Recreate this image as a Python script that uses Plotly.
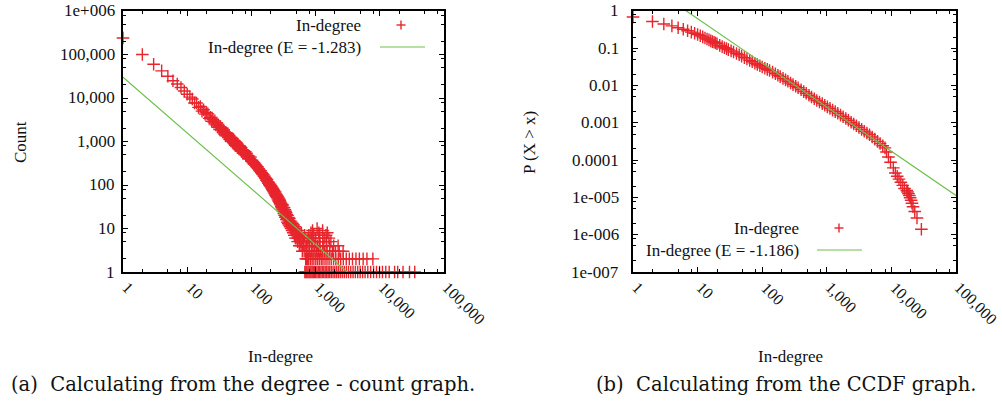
import math
import plotly.graph_objects as go

# ---------------------------------------------------------------- data
# (a) degree -> number of nodes with that in-degree
band_degree = [1, 2, 3, 4, 5, 6, 7, 8, 9, 10, 11, 12, 13, 14, 15, 16, 17, 18, 19, 20,
               21, 22, 23, 24, 25, 26, 27, 28, 29, 30, 31, 32, 33, 34, 35, 36, 37, 38,
               39, 40, 41, 42, 43, 44, 45, 46, 47, 48, 49, 50, 51, 52, 53, 54, 55, 56,
               57, 58, 59, 60, 61, 62, 63, 64, 65, 66, 67, 68, 69, 70, 72, 74, 76, 78,
               80, 82, 84, 86, 88, 90, 92, 95, 97, 100,
               102, 104, 106, 108, 110, 112, 114, 116, 118, 120, 122, 124, 126, 128,
               130, 133, 136, 139, 142, 145, 148, 151, 154, 157, 160, 163, 166, 169,
               172, 175, 178, 181, 184, 187, 190, 193, 196, 199, 202, 205, 208, 211,
               214, 217, 220, 223, 226, 229, 232, 235, 238, 241, 244, 247, 250, 253,
               256, 259, 262, 265, 268, 271, 274, 277, 280, 283, 286, 289, 292, 295,
               298, 301]
band_count = [240000, 100000, 59500, 42000, 31500, 25000, 20900, 17400, 14500, 12200,
              10500, 9520, 7700, 7680, 6090, 6370, 4990, 5380, 4270, 4630,
              4307, 3395, 3585, 2916, 3255, 2784, 2981, 2406, 2654, 2125, 2291, 1890,
              2146, 1862, 2020, 1654, 1841, 1490, 1623, 1350, 1549, 1355, 1485, 1225,
              1373, 1122, 1227, 1029, 1188, 1043, 1148, 949, 1074, 881, 967, 816,
              945, 834, 923, 769, 872, 717, 790, 670, 776, 688, 764, 637, 723, 598,
              647, 537, 614, 535, 584, 481, 538, 439, 479, 400, 461, 399, 438, 357,
              372, 350, 345, 322, 326, 305, 300, 285, 282, 270, 258, 262, 244, 238,
              235, 222, 208, 212, 194, 190, 181, 175, 171, 158, 160, 148, 144, 139,
              128, 135, 121, 118, 110, 114, 103, 98, 104, 92, 96, 86, 90, 80,
              84, 75, 79, 70, 74, 66, 63, 69, 58, 62, 55, 59, 52, 56,
              48, 53, 45, 50, 42, 47, 40, 44, 37, 41, 35, 38, 32, 36,
              30, 34]

cloud_degree = [305, 308, 311, 314, 317, 320, 323, 326, 329, 332, 335, 338, 341, 344,
                347, 350, 354, 358, 362, 366, 370, 374, 378, 382, 386, 390, 395, 400,
                405, 410, 415, 420, 425, 430, 436, 442, 448, 454, 460, 466, 472, 478,
                484, 490, 497, 504, 511, 518, 525, 533, 541, 549, 557, 565, 574, 583,
                592, 601, 611, 621, 631, 642, 653, 664, 676, 688, 700]
cloud_count = [28, 35, 25, 31, 27, 22, 30, 24, 20, 27, 22, 18, 25, 19,
               23, 16, 21, 17, 14, 20, 16, 13, 18, 15, 12, 17, 14, 11,
               15, 12, 10, 14, 11, 9, 13, 10, 8, 12, 9, 7, 11, 8,
               6, 10, 7, 9, 6, 8, 5, 7, 9, 6, 4, 7, 5, 6,
               4, 8, 5, 3, 6, 4, 5, 3, 7, 4, 2]

# high degrees, grouped by how many nodes share them
tail_c1 = [680, 705, 730, 760, 790, 820, 850, 885, 920, 960, 1000, 1050, 1100, 1150,
           1210, 1270, 1340, 1410, 1490, 1570, 1660, 1760, 1870, 1990, 2120, 2260,
           2420, 2600, 2800, 3020, 3260, 3530, 3830, 4160, 4530, 4940, 5400, 5900,
           6500, 7200, 8000, 8900, 9900, 11000, 12400, 14000, 17000, 19000, 23000,
           29000, 35000]
tail_c2 = [720, 750, 782, 833, 884, 941, 1007, 1072, 1143, 1224, 1303, 1402, 1504,
           1621, 1752, 1903, 2064, 2253, 2461, 2703, 3004, 3352, 3754, 4253, 4804,
           5503, 6303, 7800]
tail_c3 = [715, 762, 805, 861, 915, 975, 1041, 1112, 1191, 1282, 1383, 1511, 1662,
           1831, 2042, 2331, 2680]
tail_c4 = [725, 795, 875, 965, 1065, 1176, 1311, 1461, 1652, 1911, 2240]
tail_c5 = [740, 815, 905, 1005, 1135, 1291, 1491, 1731]
tail_c6 = [771, 871, 995, 1146, 1361, 1610]
tail_c7 = [786, 935, 1161, 1455]
tail_c8 = [845, 1125, 1520]
tail_c9 = [896, 1286]
tail_c10 = [1056]

fit_a_exponent = -1.283
fit_a_scale = 30200

# (b) complementary cumulative distribution P(X > x)
ccdf_degree = [1, 2, 3, 4, 5, 6, 7, 8, 9, 10, 11, 12, 13, 14, 15, 16, 17, 18, 19, 20,
               22, 24, 26, 28, 30, 33, 36, 40, 44, 48, 53, 58, 64, 70, 77, 84, 92,
               100, 110, 120, 130, 145, 160, 175, 190, 210, 230, 250, 275, 300, 330,
               360, 400, 440, 480, 530, 580, 640, 700, 770, 850, 930, 1020, 1120,
               1230, 1350, 1480, 1630, 1790, 1970, 2160, 2380, 2610, 2870, 3150, 3460,
               3800, 4180, 4590, 5040, 5540, 6090, 6690, 7350, 7950, 8400, 9000, 9700,
               10700, 11500, 12300, 13100, 14000, 15000, 16000, 17300, 17800, 18400,
               19000, 19500, 20200, 20800, 21600, 23000, 24900, 29100]
ccdf_prob = [0.692, 0.525, 0.447, 0.398, 0.355, 0.324, 0.295, 0.272, 0.254, 0.234,
             0.216, 0.202, 0.188, 0.178, 0.168, 0.158, 0.151, 0.145, 0.138, 0.132,
             0.120, 0.111, 0.1035, 0.0977, 0.0923, 0.0851, 0.0794, 0.0724, 0.0668,
             0.0617, 0.0562, 0.0519, 0.0473, 0.0437, 0.0398, 0.0367, 0.0339,
             0.0316, 0.0292, 0.0272, 0.0254, 0.0229, 0.0208, 0.0190, 0.0174, 0.0156,
             0.0142, 0.0130, 0.01175, 0.0106, 0.00957, 0.00873, 0.00771, 0.00689,
             0.00621, 0.00552, 0.00496, 0.00442, 0.00397, 0.00363, 0.00327, 0.00297,
             0.00269, 0.00244, 0.00220, 0.00200, 0.00181, 0.00161, 0.00146, 0.00131,
             0.00117, 0.00104, 0.000935, 0.000836, 0.000748, 0.000670, 0.000598,
             0.000535, 0.000479, 0.000419, 0.000366, 0.000319, 0.000279, 0.000244,
             0.000213, 0.000166, 0.000121, 0.000088, 0.000062, 0.000045, 0.000037,
             0.000031, 0.0000255, 0.000021, 0.0000173, 0.0000154, 0.000014,
             0.0000126, 0.0000112, 0.0000098, 0.0000084, 0.000007, 0.0000056,
             0.0000042, 0.0000028, 0.0000014]

fit_b_exponent = -1.186
fit_b_scale = 9.55

x_tick_vals = [1, 10, 100, 1000, 10000, 100000]
x_tick_text = ["1", "10", "100", "1,000", "10,000", "100,000"]
ya_tick_vals = [1, 10, 100, 1000, 10000, 100000, 1000000]
ya_tick_text = ["1", "10", "100", "1,000", "10,000", "100,000", "1e+006"]
yb_tick_vals = [1e-7, 1e-6, 1e-5, 1e-4, 1e-3, 1e-2, 1e-1, 1]
yb_tick_text = ["1e-007", "1e-006", "1e-005", "0.0001", "0.001", "0.01", "0.1", "1"]

# ---------------------------------------------------------------- style
W, H = 1002, 407
RED = "#e8242c"
GREEN = "#6cbf48"
INK = "#111111"
SERIF = "Liberation Serif"
TICK_FONT = dict(family=SERIF, size=17, color=INK)
XTICK_FONT = dict(family=SERIF, size=16, color=INK)


def px(x):
    return x / W


def py(y):
    return 1 - y / H


# plot frames (pixels)
A_L, A_R = 123, 444
B_L, B_R = 633, 956
TOP, BOT = 11, 272

# ---------------------------------------------------------------- traces
tails = [tail_c1, tail_c2, tail_c3, tail_c4, tail_c5, tail_c6, tail_c7, tail_c8,
         tail_c9, tail_c10]
a_x = band_degree + cloud_degree
a_y = band_count + cloud_count
for n, degs in enumerate(tails, start=1):
    a_x += degs
    a_y += [n] * len(degs)

marker = dict(symbol="cross-thin", size=9, color=RED, line=dict(width=1.4, color=RED))

fig = go.Figure()
fig.add_trace(go.Scatter(x=a_x, y=a_y, mode="markers", marker=marker,
                         cliponaxis=False, xaxis="x", yaxis="y", showlegend=False))
fit_x = [1, 100000]
fig.add_trace(go.Scatter(x=fit_x, y=[fit_a_scale * v ** fit_a_exponent for v in fit_x],
                         mode="lines", line=dict(color=GREEN, width=1.2),
                         xaxis="x", yaxis="y", showlegend=False))

fig.add_trace(go.Scatter(x=ccdf_degree, y=ccdf_prob, mode="markers", marker=marker,
                         cliponaxis=False, xaxis="x2", yaxis="y2", showlegend=False))
fig.add_trace(go.Scatter(x=fit_x, y=[fit_b_scale * v ** fit_b_exponent for v in fit_x],
                         mode="lines", line=dict(color=GREEN, width=1.2),
                         xaxis="x2", yaxis="y2", showlegend=False))


# ---------------------------------------------------------------- axes
def minor_vals(lo, hi):
    vals = []
    for e in range(lo, hi):
        for m in (2, 5, 8):
            vals.append(m * 10.0 ** e)
    return vals


def axis(domain, rng, tv, anchor, minor):
    return dict(type="log", domain=domain, range=rng, anchor=anchor,
                tickmode="array", tickvals=tv, showticklabels=False,
                ticks="inside", ticklen=5, tickwidth=1, tickcolor="#000",
                showline=True, linecolor="#000", linewidth=2, mirror="allticks",
                showgrid=False, zeroline=False,
                minor=dict(tickmode="array", tickvals=minor, ticks="inside",
                           ticklen=3, tickwidth=1, tickcolor="#000", showgrid=False))


ydom = [py(BOT), py(TOP)]
fig.update_layout(
    width=W, height=H, margin=dict(l=0, r=0, t=0, b=0),
    paper_bgcolor="white", plot_bgcolor="white", showlegend=False,
    xaxis=axis([px(A_L), px(A_R)], [0, 5], x_tick_vals, "y", minor_vals(0, 5)),
    yaxis=axis(ydom, [0, 6], ya_tick_vals, "x", minor_vals(0, 6)),
    xaxis2=axis([px(B_L), px(B_R)], [0, 5], x_tick_vals, "y2", minor_vals(0, 5)),
    yaxis2=axis(ydom, [-7, 0], yb_tick_vals, "x2", minor_vals(-7, 0)),
)

# ---------------------------------------------------------------- text
ann = []


def text(x, y, s, size=17, family=SERIF, angle=0, xanchor="center"):
    ann.append(dict(x=px(x), y=py(y), xref="paper", yref="paper", text=s,
                    showarrow=False, textangle=angle, xanchor=xanchor, yanchor="middle",
                    font=dict(family=family, size=size, color=INK)))


# slanted degree labels hang from the bottom ticks
for xr in ("x", "x2"):
    for v, t in zip(x_tick_vals, x_tick_text):
        ann.append(dict(x=math.log10(v), xref=xr, y=py(276), yref="paper", text=t,
                        showarrow=False, textangle=45, xanchor="left", yanchor="top",
                        xshift=-7, font=XTICK_FONT))

# value labels right-aligned against each left frame
for yr, right, vals, labels in (("y", 117, ya_tick_vals, ya_tick_text),
                                ("y2", 621, yb_tick_vals, yb_tick_text)):
    for v, t in zip(vals, labels):
        ann.append(dict(x=px(right), xref="paper", y=math.log10(v), yref=yr, text=t,
                        showarrow=False, xanchor="right", yanchor="middle",
                        font=TICK_FONT))

text(20, 142, "Count", angle=-90)
text(530, 143, "P (X &gt; x)", angle=-90)
text(280, 356, "In-degree")
text(790, 356, "In-degree")
text(243, 384, "(a)  Calculating from the degree - count graph.", size=19.5,
     family="DejaVu Serif")
text(786, 384, "(b)  Calculating from the CCDF graph.", size=19.5,
     family="DejaVu Serif")

# key boxes: labels right-aligned, sample drawn to the right
shapes = []


def key(right, y_top, sample_x, line_x0, line_x1, fit_label):
    text(right, y_top, "In-degree", xanchor="right")
    text(right, y_top + 22, fit_label, xanchor="right")
    half = 4.5
    for dx, dy in ((half, 0), (0, half)):
        shapes.append(dict(type="line", xref="paper", yref="paper",
                           x0=px(sample_x - dx), x1=px(sample_x + dx),
                           y0=py(y_top - dy), y1=py(y_top + dy),
                           line=dict(color=RED, width=1.4)))
    shapes.append(dict(type="line", xref="paper", yref="paper",
                       x0=px(line_x0), x1=px(line_x1), y0=py(y_top + 22),
                       y1=py(y_top + 22), line=dict(color=GREEN, width=1.2)))


key(363, 25, 401, 380, 425, "In-degree (E = %.3f)" % fit_a_exponent)
key(801, 228, 839, 817, 862, "In-degree (E = %.3f)" % fit_b_exponent)

fig.update_layout(annotations=ann, shapes=shapes)
fig.write_html("out.html")
